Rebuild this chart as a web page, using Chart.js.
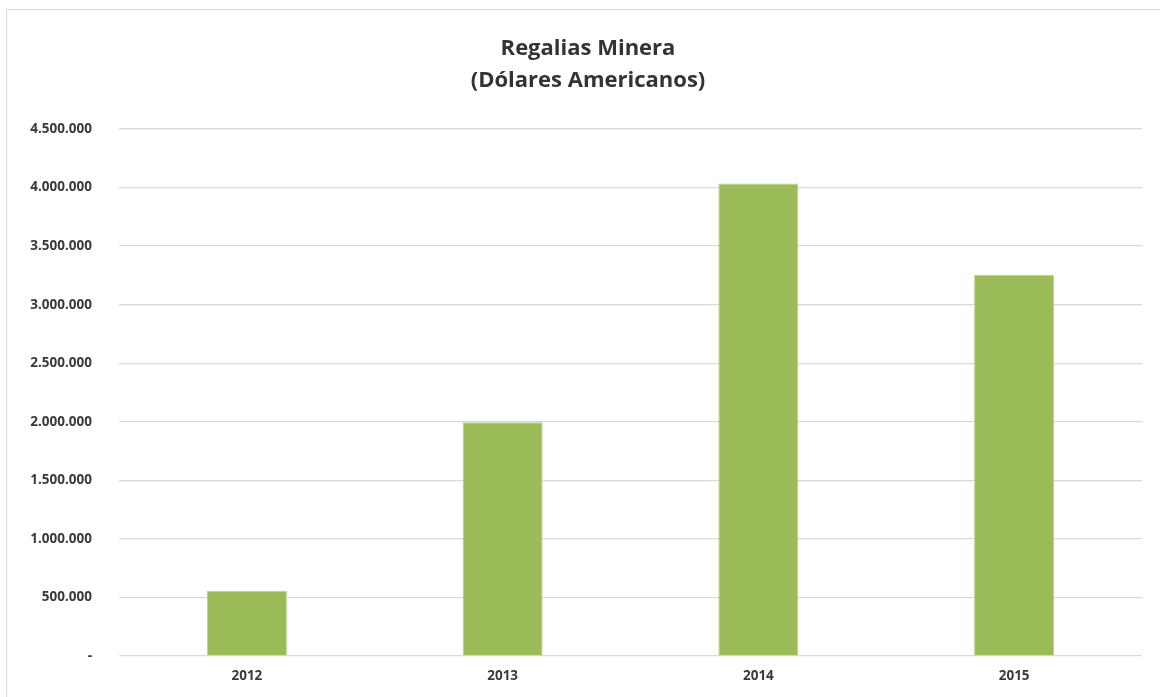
<!DOCTYPE html>
<html>
<head>
<meta charset="utf-8">
<script src="https://cdn.jsdelivr.net/npm/chart.js@4/dist/chart.umd.min.js"></script>
<style>
  html, body { margin: 0; padding: 0; background: #ffffff; overflow: hidden; }
  #wrap { position: relative; width: 1160px; height: 697px; }
  #frame { position: absolute; left: 6px; top: 9px; width: 1200px; height: 800px; border: 1px solid #d9d9d9; box-sizing: border-box; }
  canvas { position: absolute; left: 0; top: 0; }
</style>
</head>
<body>
<div id="wrap">
  <div id="frame"></div>
  <canvas id="c" width="1160" height="697"></canvas>
</div>
<script>
const titleLines = ["Regalias Minera", "(Dólares Americanos)"];
const categories = ["2012", "2013", "2014", "2015"];
const regalias = [557000, 1995000, 4034000, 3255000];
const yTickValues = [0, 500000, 1000000, 1500000, 2000000, 2500000, 3000000, 3500000, 4000000, 4500000];

function fmt(v) {
  if (v === 0) return "-";
  return String(Math.round(v)).replace(/\B(?=(\d{3})+(?!\d))/g, ".");
}

const txt = "#3a3a3a";
const grid = "#d9d9d9";

// shift the title block so it is centred like the original (frame-centred)
const titleShift = {
  id: "titleShift",
  afterLayout(chart) {
    const t = chart.titleBlock;
    if (t) { t.left = 34; t.right = 1142; }
  }
};

new Chart(document.getElementById("c"), {
  type: "bar",
  data: {
    labels: categories,
    datasets: [{
      label: "Regalias",
      data: regalias,
      backgroundColor: "#9bbb59",
      borderColor: "#b9d08c",
      borderWidth: 1,
      categoryPercentage: 1.0,
      barPercentage: 0.313
    }]
  },
  plugins: [titleShift],
  options: {
    responsive: false,
    animation: false,
    layout: { padding: { left: 0, right: 18, top: 0, bottom: 0 } },
    plugins: {
      legend: { display: false },
      tooltip: { enabled: false },
      title: {
        display: true,
        text: titleLines,
        color: "#333333",
        font: { family: "'Open Sans', sans-serif", size: 22, weight: "bold", lineHeight: 1.455 },
        padding: { top: 33, bottom: 32 }
      }
    },
    scales: {
      x: {
        grid: { display: false, drawTicks: false },
        border: { display: false },
        ticks: { color: txt, padding: 12, font: { family: "'Open Sans', sans-serif", size: 13.5, weight: "bold" } },
        afterFit: s => { s.height = 41; }
      },
      y: {
        min: 0,
        max: 4500000,
        afterBuildTicks: s => { s.ticks = yTickValues.map(v => ({ value: v })); },
        grid: { color: grid, lineWidth: 1.3, drawTicks: false },
        border: { display: false },
        ticks: {
          color: txt,
          padding: 27,
          font: { family: "'Open Sans', sans-serif", size: 13.5, weight: "bold" },
          callback: v => fmt(v)
        },
        afterFit: s => { s.width = 119; }
      }
    }
  }
});
</script>
</body>
</html>
